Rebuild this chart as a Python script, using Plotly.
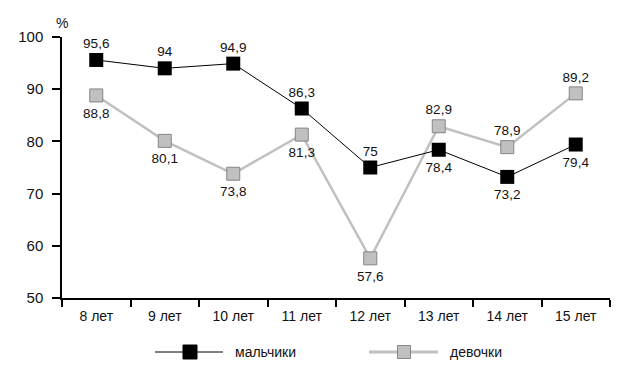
import plotly.graph_objects as go

categories = ["8 лет", "9 лет", "10 лет", "11 лет", "12 лет", "13 лет", "14 лет", "15 лет"]
boys = [95.6, 94, 94.9, 86.3, 75, 78.4, 73.2, 79.4]
girls = [88.8, 80.1, 73.8, 81.3, 57.6, 82.9, 78.9, 89.2]
boys_label_top = [True, True, True, True, True, False, False, False]
girls_label_top = [False, False, False, False, False, True, True, True]
y_ticks = [50, 60, 70, 80, 90, 100]

def fmt(v):
    return ("%g" % v).replace(".", ",")

FONT = "Liberation Sans, Arial, sans-serif"
GRAY = "#c0c0c0"
LABEL_FONT = dict(family=FONT, size=13.5, color="#111")

fig = go.Figure()
fig.add_trace(go.Scatter(
    x=categories, y=girls, mode="lines+markers",
    line=dict(color=GRAY, width=2.5),
    marker=dict(symbol="square", size=13, color=GRAY, line=dict(color="#858585", width=1)),
    showlegend=False, cliponaxis=False, hoverinfo="skip",
))
fig.add_trace(go.Scatter(
    x=categories, y=boys, mode="lines+markers",
    line=dict(color="black", width=1),
    marker=dict(symbol="square", size=14, color="black"),
    showlegend=False, cliponaxis=False, hoverinfo="skip",
))

# value labels (invisible markers only set the label offset)
for vals, tops in [(boys, boys_label_top), (girls, girls_label_top)]:
    for want_top, msize, pos in [(True, 12, "top center"), (False, 18, "bottom center")]:
        xs = [c for c, t in zip(categories, tops) if t == want_top]
        ys = [v for v, t in zip(vals, tops) if t == want_top]
        fig.add_trace(go.Scatter(
            x=xs, y=ys, mode="markers+text",
            marker=dict(size=msize, color="rgba(0,0,0,0)"),
            text=[fmt(v) for v in ys], textposition=pos, textfont=LABEL_FONT,
            showlegend=False, cliponaxis=False, hoverinfo="skip",
        ))

# page body has an 8px default margin; compensate
fig.update_layout(
    width=632, height=379,
    margin=dict(l=54, r=30, t=29, b=89),
    plot_bgcolor="white", paper_bgcolor="white",
    font=dict(family=FONT, size=14, color="#111"),
    xaxis=dict(
        type="category", range=[-0.5, 7.5], automargin=False,
        showline=True, linecolor="black", linewidth=1.5,
        ticks="outside", ticklen=7, tickcolor="black", tickwidth=1.5,
        tickson="boundaries", showgrid=False, zeroline=False,
        tickfont=dict(size=14), ticklabelstandoff=4,
    ),
    yaxis=dict(
        range=[50, 100], tickvals=y_ticks, automargin=False,
        showline=True, linecolor="black", linewidth=1.5,
        ticks="outside", ticklen=8, tickcolor="black", tickwidth=1.5,
        showgrid=False, zeroline=False, tickfont=dict(size=15),
        ticklabelstandoff=6,
    ),
)

# "%" label
fig.add_annotation(xref="paper", yref="paper", x=0, y=1, yshift=4, text="%",
                   showarrow=False, font=dict(size=14), xanchor="center", yanchor="bottom")

# manual legend
def to_px_x(px):
    return (px - 62) / (610 - 62)

legend_y_px = 352
ly = (298 - legend_y_px) / (298 - 37)
for (x0, x1, xm, xt, name, lc, lw, mc, ms, ml) in [
    (155, 223, 190, 233, "мальчики", "black", 1, "black", 14, "black"),
    (369, 438, 404, 448, "девочки", GRAY, 3, GRAY, 13, "#858585"),
]:
    fig.add_shape(type="line", xref="paper", yref="paper",
                  x0=to_px_x(x0), x1=to_px_x(x1), y0=ly, y1=ly,
                  line=dict(color=lc, width=lw))
    h = ms / 2 / 261
    w = ms / 2 / 548
    fig.add_shape(type="rect", xref="paper", yref="paper",
                  x0=to_px_x(xm) - w, x1=to_px_x(xm) + w, y0=ly - h, y1=ly + h,
                  fillcolor=mc, line=dict(color=ml, width=1))
    fig.add_annotation(xref="paper", yref="paper", x=to_px_x(xt), y=ly, text=name,
                       showarrow=False, xanchor="left", yanchor="middle", font=dict(size=14))

fig.write_html("out.html")
